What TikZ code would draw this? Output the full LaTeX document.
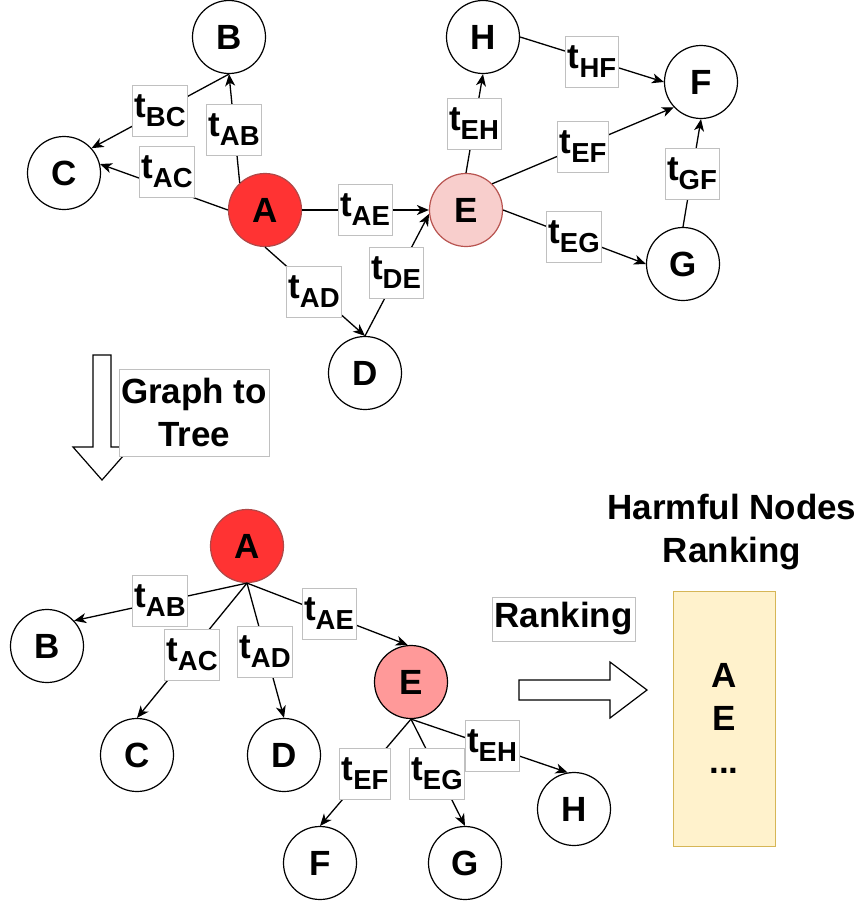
\documentclass[tikz,border=0pt]{standalone}
\usepackage{fontspec}
\setmainfont{Liberation Sans}
\usetikzlibrary{arrows.meta}
\definecolor{redA}{HTML}{FF3333}
\definecolor{redAb}{HTML}{B04848}
\definecolor{pinkE}{HTML}{F8CECC}
\definecolor{pinkEb}{HTML}{B85450}
\definecolor{salE}{HTML}{FF9999}
\definecolor{lblb}{HTML}{C0C0C0}
\definecolor{yel}{HTML}{FFF2CC}
\definecolor{yelb}{HTML}{D6B656}
\newcommand{\bigf}{\fontsize{35}{43}\selectfont\bfseries}
\newcommand{\subf}{\fontsize{27.5}{27.5}\selectfont\bfseries}
\newcommand{\tl}[1]{t\raisebox{-9pt}{\subf #1}}
\begin{document}
\begin{tikzpicture}[x=1pt,y=-1pt,
  vtx/.style={circle, draw=black, line width=1.2pt, minimum size=73pt, inner sep=0pt, font=\bigf, fill=white},
  lbl/.style={draw=lblb, line width=0.8pt, fill=white, inner xsep=2pt, inner ysep=0pt, minimum height=51pt, font=\bigf},
  arr/.style={line width=1.3pt, -{Stealth[length=12pt,width=10pt,inset=3.5pt]}},
  block/.style={draw=black, line width=1.2pt, fill=white, line join=miter},
  txtbox/.style={draw=lblb, line width=0.8pt, fill=white, align=center, font=\bigf, inner sep=0pt}]
\useasboundingbox (0,0) rectangle (867,902);

% ---- top graph ----
\node[vtx] (tB) at (229,37) {B};
\node[vtx] (tC) at (64,173) {C};
\node[vtx, fill=redA, draw=redAb] (tA) at (265,210) {A};
\node[vtx, fill=pinkE, draw=pinkEb] (tE) at (466,210) {E};
\node[vtx] (tD) at (365,373) {D};
\node[vtx] (tH) at (483,37) {H};
\node[vtx] (tF) at (701,82) {F};
\node[vtx] (tG) at (683,264) {G};

\draw[arr] (tA.133) -- (tB.south);
\draw[arr] (tB.south) -- (tC.42);
\draw[arr] (tA.west) -- (tC.14);
\draw[arr] (tA.east) -- (tE.west);
\draw[arr] (tA.south) -- (tD.north);
\draw[arr] (tD.north) -- (tE.186);
\draw[arr] (tE.north) -- (tH.south);
\draw[arr] (tE.45) -- (tF.223);
\draw[arr] (tE.east) -- (tG.west);
\draw[arr] (tH.east) -- (tF.west);
\draw[arr] (tG.north) -- (tF.south);

\node[lbl] (lBC) at (160,111) {\tl{BC}};
\node[lbl] (lAB) at (234,130) {\tl{AB}};
\node[lbl] (lAC) at (167,172) {\tl{AC}};
\node[lbl] (lAE) at (365,210) {\tl{AE}};
\node[lbl] (lAD) at (314,292) {\tl{AD}};
\node[lbl] (lDE) at (396,273) {\tl{DE}};
\node[lbl] (lEH) at (474,124) {\tl{EH}};
\node[lbl] (lHF) at (592,62) {\tl{HF}};
\node[lbl] (lEF) at (583,147) {\tl{EF}};
\node[lbl] (lGF) at (692,174) {\tl{GF}};
\node[lbl] (lEG) at (574,237) {\tl{EG}};

% ---- graph to tree arrow ----
\draw[block] (93,355) -- (111,355) -- (111,447) -- (131,447) -- (102,480) -- (73,447) -- (93,447) -- cycle;
\node[txtbox, minimum width=150pt, minimum height=87pt] (g2t) at (194,412.5) {Graph to\\Tree};

% ---- tree ----
\node[vtx, fill=redA, draw=redAb] (rA) at (247,546) {A};
\node[vtx] (rB) at (47,646) {B};
\node[vtx] (rC) at (137,755) {C};
\node[vtx] (rD) at (284,755) {D};
\node[vtx, fill=salE] (rE) at (411,682) {E};
\node[vtx] (rF) at (320,863) {F};
\node[vtx] (rG) at (465,863) {G};
\node[vtx] (rH) at (574,809) {H};

\draw[arr] (rA.south) -- (rB.43);
\draw[arr] (rA.south) -- (rC.north);
\draw[arr] (rA.south) -- (rD.north);
\draw[arr] (rA.south) -- (rE.95);
\draw[arr] (rE.south) -- (rF.north);
\draw[arr] (rE.south) -- (rG.north);
\draw[arr] (rE.south) -- (rH.100);

\node[lbl] (mAB) at (160,601) {\tl{AB}};
\node[lbl] (mAC) at (192,655) {\tl{AC}};
\node[lbl] (mAD) at (265,652) {\tl{AD}};
\node[lbl] (mAE) at (329,614) {\tl{AE}};
\node[lbl] (mEF) at (365,774) {\tl{EF}};
\node[lbl] (mEG) at (437,774) {\tl{EG}};
\node[lbl] (mEH) at (492,746) {\tl{EH}};

% ---- ranking ----
\node[txtbox, minimum width=143pt, minimum height=44pt] (rank) at (563.5,619) {Ranking};
\draw[block] (519,680) -- (610,680) -- (610,662) -- (647,690) -- (610,718) -- (610,700) -- (519,700) -- cycle;
\node[font=\bigf, align=center, inner sep=0pt] (htitle) at (732,532.5) {Harmful Nodes\\Ranking};
\node[draw=yelb, fill=yel, line width=1pt, minimum width=102pt, minimum height=255pt, align=center, font=\bigf, inner sep=0pt] (hbox) at (724,718.5) {A\\E\\...};
\end{tikzpicture}
\end{document}
